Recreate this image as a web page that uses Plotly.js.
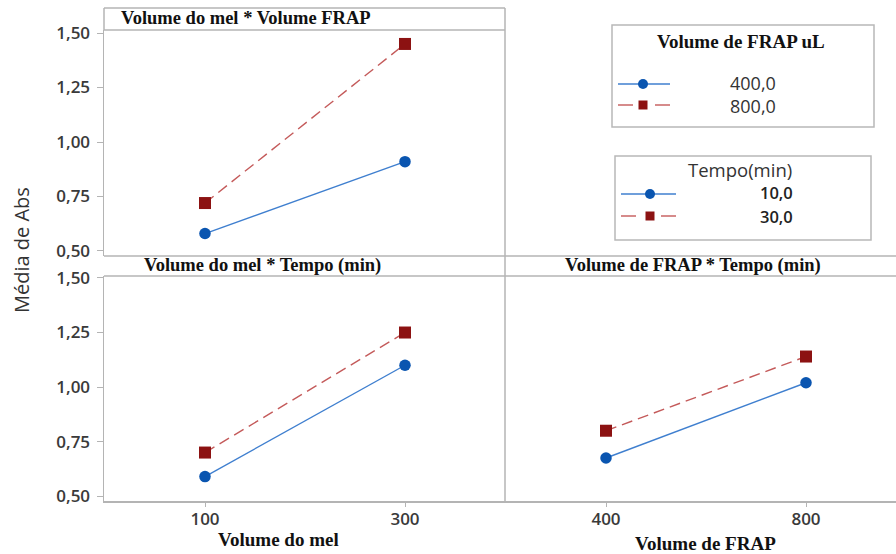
<!DOCTYPE html>
<html><head><meta charset="utf-8">
<script src="https://cdn.plot.ly/plotly-3.0.1.min.js"></script>
<style>html,body{margin:0;padding:0;background:#fff}</style>
</head><body><div id="chart" style="width:896px;height:554px"></div>
<script>
// ---- data ----
const melLevels = [100, 300];
const frapLevels = [400, 800];
const frapNames = ['400,0', '800,0'];
const tempoNames = ['10,0', '30,0'];
const melFrap400 = [0.58, 0.91];
const melFrap800 = [0.72, 1.45];
const melTempo10 = [0.59, 1.10];
const melTempo30 = [0.70, 1.25];
const frapTempo10 = [0.675, 1.02];
const frapTempo30 = [0.80, 1.14];
const panelTitles = ['Volume do mel * Volume FRAP', 'Volume do mel * Tempo (min)', 'Volume de FRAP * Tempo (min)'];
const xTitles = ['Volume do mel', 'Volume de FRAP'];
const yTitle = 'Média de Abs';
const legendTitles = ['Volume de FRAP uL', 'Tempo(min)'];
const yTicks = [0.5, 0.75, 1.0, 1.25, 1.5];

// ---- helpers / styles ----
const W = 896, H = 554;
const px = v => v / W;
const py = v => 1 - v / H;
const BLUE_L = '#3f7fcf', BLUE_M = '#0a55b0';
const RED_L = '#c45a5a', RED_M = '#8c1212';
const GRID = '#b4b4b4';
const serif = 'Liberation Serif, Times New Roman, serif';
const sans = 'Open Sans, Noto Sans, sans-serif';

function blue(x, y, xa, ya, name) {
  return {x: x, y: y, xaxis: xa, yaxis: ya, name: name, type: 'scatter', mode: 'lines+markers',
    line: {color: BLUE_L, width: 1.4}, marker: {symbol: 'circle', size: 11.5, color: BLUE_M}, showlegend: false};
}
function red(x, y, xa, ya, name) {
  return {x: x, y: y, xaxis: xa, yaxis: ya, name: name, type: 'scatter', mode: 'lines+markers',
    line: {color: RED_L, width: 1.4, dash: '11px,6px'}, marker: {symbol: 'square', size: 12, color: RED_M}, showlegend: false};
}

const data = [
  blue(melLevels, melFrap400, 'x', 'y', frapNames[0]),
  red(melLevels, melFrap800, 'x', 'y', frapNames[1]),
  blue(melLevels, melTempo10, 'x2', 'y2', tempoNames[0]),
  red(melLevels, melTempo30, 'x2', 'y2', tempoNames[1]),
  blue(frapLevels, frapTempo10, 'x3', 'y2', tempoNames[0]),
  red(frapLevels, frapTempo30, 'x3', 'y2', tempoNames[1])
];

const tickFont = {family: sans, size: 17, color: '#3a3a3a', weight: 600};
const yaxisBase = {
  tickvals: yTicks, tickformat: '.2f', ticks: 'outside', ticklen: 6, tickcolor: GRID,
  showline: true, linecolor: GRID, linewidth: 1.5, showgrid: false, zeroline: false,
  tickfont: tickFont, fixedrange: true, ticklabelstandoff: 3
};
const xaxisBase = {
  ticks: 'outside', ticklen: 4, tickcolor: GRID, showline: true, linecolor: GRID, linewidth: 1.5,
  showgrid: false, zeroline: false, tickfont: tickFont, ticklabelstandoff: -2
};

const layout = {
  width: W, height: H,
  margin: {l: 0, r: 0, t: 0, b: 0},
  paper_bgcolor: '#fff', plot_bgcolor: '#fff',
  separators: ',.',
  showlegend: false,
  xaxis: {domain: [px(104), px(505)], range: [-1, 400], anchor: 'y', showticklabels: false,
    showline: false, showgrid: false, zeroline: false, ticks: ''},
  yaxis: Object.assign({}, yaxisBase, {domain: [py(256), py(30)], range: [0.477, 1.514], anchor: 'x'}),
  xaxis2: Object.assign({}, xaxisBase, {domain: [px(104), px(505)], range: [-1, 400], anchor: 'y2', tickvals: melLevels}),
  yaxis2: Object.assign({}, yaxisBase, {domain: [py(501), py(276)], range: [0.478, 1.509], anchor: 'x2'}),
  xaxis3: Object.assign({}, xaxisBase, {domain: [px(505), 1], range: [198, 980], anchor: 'y2', tickvals: frapLevels}),
  shapes: [],
  annotations: []
};

const S = layout.shapes, A = layout.annotations;
function hline(x0, x1, y) { S.push({type: 'line', xref: 'paper', yref: 'paper', x0: px(x0), x1: px(x1), y0: py(y), y1: py(y), line: {color: GRID, width: 1.5}}); }
function vline(x, y0, y1) { S.push({type: 'line', xref: 'paper', yref: 'paper', x0: px(x), x1: px(x), y0: py(y0), y1: py(y1), line: {color: GRID, width: 1.5}}); }
// strips and panel borders
hline(104, 505, 8); hline(104, 505, 30);
vline(104, 8, 30);
vline(505, 8, 501);
hline(104, 896, 256); hline(104, 896, 276);

function txt(t, x, y, font, extra) {
  A.push(Object.assign({text: t, xref: 'paper', yref: 'paper', x: px(x), y: py(y), showarrow: false,
    xanchor: 'center', yanchor: 'middle', font: font}, extra || {}));
}
const stripFont = {family: serif, size: 18.5, color: '#111', weight: 'bold'};
txt(panelTitles[0], 246, 18, stripFont);
txt(panelTitles[1], 262, 266, stripFont);
txt(panelTitles[2], 693, 265, stripFont);
const xtFont = {family: serif, size: 19, color: '#111', weight: 'bold'};
txt(xTitles[0], 278, 539, xtFont);
txt(xTitles[1], 705, 543, xtFont);
txt(yTitle, 22, 250, {family: sans, size: 20, color: '#333'}, {textangle: -90});

// ---- legends (drawn as boxes) ----
function rect(x0, y0, x1, y1) { S.push({type: 'rect', xref: 'paper', yref: 'paper', x0: px(x0), x1: px(x1), y0: py(y1), y1: py(y0), line: {color: '#b8b8b8', width: 1.5}, fillcolor: 'rgba(0,0,0,0)'}); }
function legLine(x0, x1, y, color, dash) { S.push({type: 'line', xref: 'paper', yref: 'paper', x0: px(x0), x1: px(x1), y0: py(y), y1: py(y), line: {color: color, width: 1.4, dash: dash || 'solid'}}); }
function legMarker(x, y, kind) {
  const r = kind === 'circle' ? 5 : 4.5;
  S.push({type: kind === 'circle' ? 'circle' : 'rect', xref: 'paper', yref: 'paper', xsizemode: 'pixel', ysizemode: 'pixel',
    xanchor: px(x), yanchor: py(y), x0: -r, x1: r, y0: -r, y1: r,
    fillcolor: kind === 'circle' ? BLUE_M : RED_M, line: {width: 0}});
}
rect(612, 25, 874, 127);
txt(legendTitles[0], 741, 42, {family: serif, size: 19, color: '#111', weight: 'bold'});
legLine(618, 670, 84, BLUE_L); legMarker(643, 84, 'circle');
legLine(618, 633, 105, RED_L); legLine(655, 670, 105, RED_L); legMarker(643, 105, 'square');
txt(frapNames[0], 753, 83, {family: sans, size: 18, color: '#333'}, {borderpad: 0});
txt(frapNames[1], 753, 106, {family: sans, size: 18, color: '#333'}, {borderpad: 0});

rect(615, 156, 871, 240);
txt(legendTitles[1], 740, 170, {family: sans, size: 18.5, color: '#333'}, {borderpad: 0});
legLine(621, 676, 194, BLUE_L); legMarker(650, 194, 'circle');
legLine(621, 636, 216, RED_L); legLine(661, 676, 216, RED_L); legMarker(650, 216, 'square');
txt(tempoNames[0], 776, 192, {family: sans, size: 16.5, color: '#222', weight: 600}, {borderpad: 0});
txt(tempoNames[1], 776, 216, {family: sans, size: 16.5, color: '#222', weight: 600}, {borderpad: 0});

Plotly.newPlot('chart', data, layout, {displayModeBar: false, staticPlot: true});
</script></body></html>
